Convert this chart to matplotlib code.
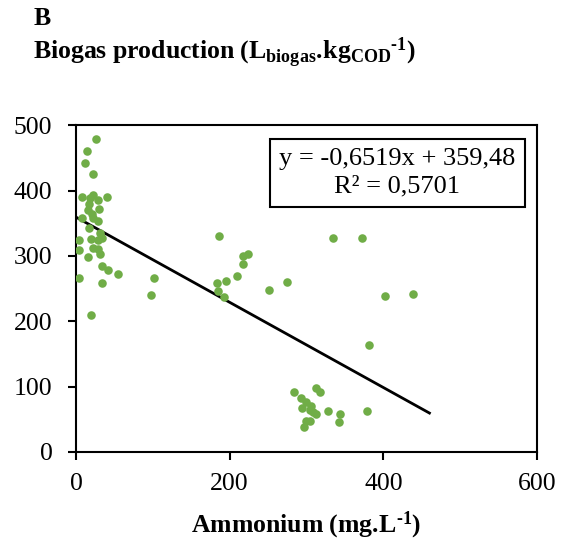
import matplotlib
matplotlib.use('Agg')
import matplotlib.pyplot as plt
import numpy as np

plt.rcParams['font.family'] = 'Liberation Serif'
plt.rcParams['mathtext.fontset'] = 'custom'
plt.rcParams['mathtext.rm'] = 'Liberation Serif'
plt.rcParams['mathtext.it'] = 'Liberation Serif:italic'
plt.rcParams['mathtext.bf'] = 'Liberation Serif:bold'

# ammonium (mg/L) vs biogas production (L biogas / kg COD)
ammonium = [25.7, 14.6, 12, 22.7, 8.2, 21.9, 18.5, 29.2, 40.8, 17.2, 15.5, 30.5,
            20.6, 22.7, 29.2, 7.7, 16.3, 31.3, 4.2, 19.7, 29.2, 33.5, 3.4, 22.7,
            29.2, 31.3, 15.5, 34.4, 41.2, 54.9, 102, 3.4, 34.4, 97, 19.7,
            186, 224, 218, 217, 209, 195, 184, 185, 193, 251, 274,
            335, 372, 402, 438, 382,
            284, 312, 317, 293, 299, 294, 306, 304, 308, 312, 328, 343, 342,
            379, 299, 305, 297]
biogas = [479, 460, 442, 426, 390, 394, 389, 386, 391, 379, 371, 372,
          364, 358, 353, 358, 343, 335, 325, 326, 325, 328, 309, 312,
          310, 303, 299, 284, 279, 273, 267, 266, 259, 240, 210,
          330, 303, 300, 287, 270, 261, 258, 247, 237, 248, 260,
          327, 327, 238, 242, 163,
          92, 98, 92, 82, 76, 68, 70, 64, 61, 58, 62, 58, 46,
          62, 48, 48, 39]

# linear trend as reported on the chart
slope = -0.6519
intercept = 359.48
r2 = 0.5701
trend_x = np.array([0, 460])

fig = plt.figure(figsize=(5.68, 5.43), dpi=100)
ax = fig.add_axes([0.1338, 0.1676, 0.8116, 0.6016])

ax.scatter(ammonium, biogas, s=38, color='#70AD47', zorder=3, linewidths=0)
ax.plot(trend_x, slope*trend_x + intercept, color='black', lw=2, zorder=2)

ax.set_xlim(0, 600)
ax.set_ylim(0, 500)
ax.set_xticks([0, 200, 400, 600])
ax.set_yticks([0, 100, 200, 300, 400, 500])
ax.tick_params(labelsize=18.5, direction='out', length=6, width=1.5)
ax.tick_params(axis='y', pad=11)
ax.tick_params(axis='x', pad=9)
for s in ax.spines.values():
	s.set_linewidth(1.5)

hy = '\u2010'
ax.set_xlabel(r'$\mathbf{Ammonium\ (mg.\!L{}^{' + hy + r'1})}$', fontsize=18.5, labelpad=11)

eq = 'y = {:.4f}x + {:.2f}\nR² = {:.4f}'.format(slope, intercept, r2).replace('.', ',')
ax.text(0.953, 0.93, eq, transform=ax.transAxes, ha='right', va='top',
	fontsize=19, linespacing=1.3, multialignment='center',
	bbox=dict(boxstyle='square,pad=0.35', fc='white', ec='black', lw=1.5))

fig.text(0.058, 0.985, r'$\mathbf{B}$', fontsize=18.5, va='top')
fig.text(0.058, 0.935, r'$\mathbf{Biogas\ production\ (L_{biogas}.\!kg_{COD}{}^{' + hy + r'1})}$',
	fontsize=18.5, va='top')

fig.savefig('out.png', dpi=100)
